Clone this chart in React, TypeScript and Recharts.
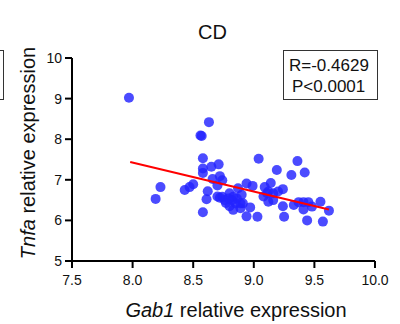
import { Label, Scatter, ScatterChart, XAxis, YAxis } from "recharts";

// Gab1 vs Tnfa relative expression, CD group
const gab1 = [
  7.97, 8.63, 8.56, 8.57, 8.58, 8.58, 8.65, 8.58, 8.71, 8.66, 8.72, 8.74, 8.23, 8.19, 8.43, 8.47, 8.5, 8.62,
  8.61, 8.58, 8.7, 8.7, 9.04, 9.36, 9.19, 9.31, 9.42, 8.74, 8.76, 8.8, 8.82, 8.8, 8.83, 8.85, 8.89, 8.87,
  8.9, 8.91, 8.94, 8.99, 8.97, 8.94, 9.03, 9.09, 9.14, 9.08, 9.11, 9.12, 9.16, 9.2, 9.24, 9.16, 9.24, 9.25,
  9.33, 9.37, 9.41, 9.45, 9.41, 9.48, 9.55, 9.62, 9.44, 9.57, 8.89, 8.86, 8.79, 8.72, 9.12, 8.77, 8.83,
];
const tnfa = [
  9.02, 8.42, 8.09, 8.08, 7.53, 7.28, 7.32, 7.17, 7.38, 7.02, 7.09, 6.99, 6.82, 6.53, 6.75, 6.82, 6.89, 6.72,
  6.52, 6.2, 6.59, 6.86, 7.52, 7.46, 7.24, 7.12, 7.18, 6.58, 6.5, 6.67, 6.5, 6.35, 6.58, 6.42, 6.3, 6.79,
  6.63, 6.42, 6.91, 6.85, 6.32, 6.1, 6.09, 6.82, 6.92, 6.59, 6.67, 6.46, 6.67, 6.71, 6.77, 6.5, 6.35, 6.09,
  6.38, 6.45, 6.45, 6.45, 6.27, 6.34, 6.46, 6.24, 6.0, 5.97, 6.42, 6.54, 6.54, 6.56, 6.71, 6.43, 6.26,
];

// regression line ends
const fitX = [7.98, 9.62];
const fitY = [7.44, 6.27];

const xTicks = [7.5, 8.0, 8.5, 9.0, 9.5, 10.0];
const yTicks = [5, 6, 7, 8, 9, 10];

const points = gab1.map((x, i) => ({ x, y: tnfa[i] }));
const fitLine = fitX.map((x, i) => ({ x, y: fitY[i] }));

const font = "'Liberation Sans', Arial, sans-serif";

export default function App() {
  return (
    <div style={{ position: "fixed", left: 0, top: 0, width: 400, height: 324, background: "#fff", overflow: "hidden", fontFamily: font }}>
      {/* edge of the neighbouring panel's box */}
      <div style={{ position: "absolute", left: -20, top: 50, width: 22, height: 48, border: "1px solid #333" }} />
      <div style={{ position: "absolute", left: 0, width: 425, top: 20, textAlign: "center", fontSize: 20, lineHeight: "24px", color: "#111" }}>CD</div>
      <div
        style={{
          position: "absolute",
          left: 283,
          top: 50,
          width: 95,
          height: 50,
          border: "1.5px solid #333",
          fontSize: 17,
          lineHeight: "21px",
          color: "#111",
          paddingTop: 4,
          paddingLeft: 5,
          boxSizing: "border-box",
        }}
      >
        <div>R=-0.4629</div>
        <div style={{ paddingLeft: 3 }}>P&lt;0.0001</div>
      </div>
      <ScatterChart width={400} height={324} margin={{ top: 58, right: 25, bottom: 33, left: 42 }}>
        <XAxis
          type="number"
          dataKey="x"
          domain={[7.5, 10]}
          ticks={xTicks}
          tickFormatter={(v: number) => v.toFixed(1)}
          height={30}
          stroke="#000"
          strokeWidth={2}
          tickSize={7}
          tickMargin={7}
          tick={{ fill: "#111", fontSize: 14, fontFamily: font }}
          allowDataOverflow
        >
          <Label
            content={() => (
              <text x={236} y={317} textAnchor="middle" fontSize={20} fill="#111" fontFamily={font}>
                <tspan fontStyle="italic">Gab1</tspan>
                <tspan> relative expression</tspan>
              </text>
            )}
          />
        </XAxis>
        <YAxis
          type="number"
          dataKey="y"
          domain={[5, 10]}
          ticks={yTicks}
          width={30}
          stroke="#000"
          strokeWidth={2}
          tickSize={7}
          tickMargin={3}
          tick={{ fill: "#111", fontSize: 14, fontFamily: font }}
          allowDataOverflow
        >
          <Label
            content={() => {
              const cx = 30;
              const cy = 153;
              return (
                <text x={cx} y={cy} transform={`rotate(-90 ${cx} ${cy})`} textAnchor="middle" dominantBaseline="middle" fontSize={20} fill="#111" fontFamily={font}>
                  <tspan fontStyle="italic">Tnfa</tspan>
                  <tspan> relative expression</tspan>
                </text>
              );
            }}
          />
        </YAxis>
        <Scatter
          data={points}
          isAnimationActive={false}
          shape={(p: any) => <circle cx={p.cx} cy={p.cy} r={5} fill="#2323ff" fillOpacity={0.82} />}
        />
        <Scatter data={fitLine} line={{ stroke: "#ff0000", strokeWidth: 2 }} shape={() => <g />} isAnimationActive={false} />
      </ScatterChart>
    </div>
  );
}
